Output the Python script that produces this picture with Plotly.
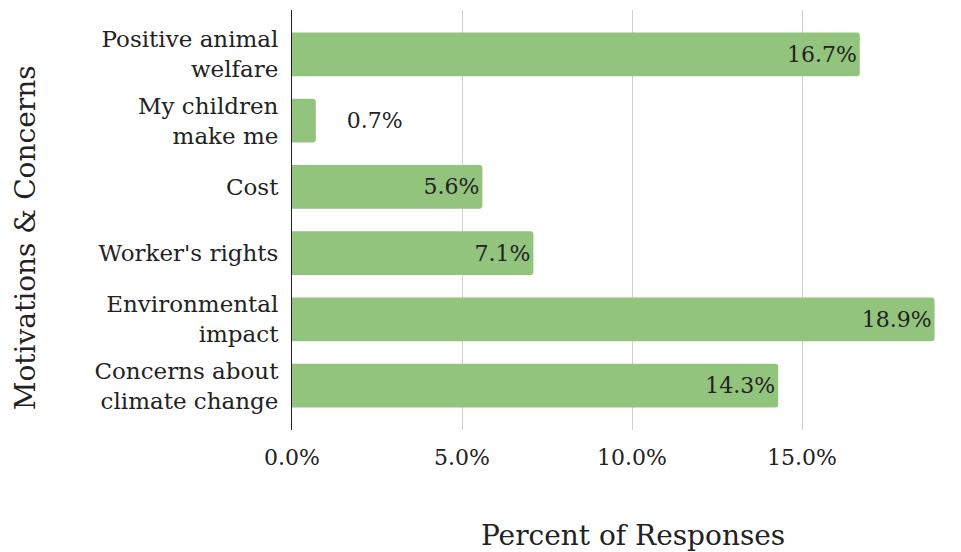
import plotly.graph_objects as go

# Survey categories, listed top to bottom
categories = [
    "Positive animal<br>welfare",
    "My children<br>make me",
    "Cost",
    "Worker's rights",
    "Environmental<br>impact",
    "Concerns about<br>climate change",
]
percent = [16.7, 0.7, 5.6, 7.1, 18.9, 14.3]
x_ticks = [0, 5, 10, 15]
x_tick_labels = ["0.0%", "5.0%", "10.0%", "15.0%"]

FONT = "DejaVu Serif"
BAR_COLOR = "#93c47d"
TEXT_COLOR = "#222222"

# Short bars get their label outside, nudged away from the bar end
positions = ["inside" if v > 2 else "outside" for v in percent]
labels = [
    (f"{v:.1f}%" if v > 2 else "\u00a0\u00a0\u00a0\u00a0" + f"{v:.1f}%")
    for v in percent
]

fig = go.Figure(
    go.Bar(
        x=percent,
        y=categories,
        orientation="h",
        marker=dict(color=BAR_COLOR, cornerradius=3, line=dict(width=0)),
        width=0.66,
        text=labels,
        textposition=positions,
        insidetextanchor="end",
        textangle=0,
        constraintext="none",
        textfont=dict(family=FONT, size=22, color=TEXT_COLOR),
        cliponaxis=False,
        hoverinfo="skip",
    )
)

n = len(categories)
fig.update_layout(
    width=961,
    height=552,
    margin=dict(l=292, r=23, t=10, b=122),
    plot_bgcolor="white",
    paper_bgcolor="white",
    showlegend=False,
    font=dict(family=FONT, size=22, color=TEXT_COLOR),
    xaxis=dict(
        range=[0, 19.0],
        tickvals=x_ticks,
        ticktext=x_tick_labels,
        showgrid=True,
        gridcolor="#d0d0d0",
        gridwidth=1,
        zeroline=False,
        showline=False,
        ticks="",
        ticklabelstandoff=12,
        tickfont=dict(family=FONT, size=22, color=TEXT_COLOR),
    ),
    yaxis=dict(
        range=[n - 1 + 0.67, -0.67],
        showgrid=False,
        zeroline=False,
        showline=True,
        linecolor="#222222",
        linewidth=1,
        ticks="",
        ticklabelstandoff=8,
        tickfont=dict(family=FONT, size=23, color=TEXT_COLOR),
    ),
    annotations=[
        dict(
            text="Percent of Responses",
            xref="paper", yref="paper",
            x=0.528, y=-0.25,
            xanchor="center", yanchor="middle",
            showarrow=False,
            font=dict(family=FONT, size=28, color=TEXT_COLOR),
        ),
        dict(
            text="Motivations & Concerns",
            xref="paper", yref="paper",
            x=-0.413, y=0.457,
            xanchor="center", yanchor="middle",
            textangle=-90,
            showarrow=False,
            font=dict(family=FONT, size=28, color=TEXT_COLOR),
        ),
    ],
)

fig.write_html("out.html")
